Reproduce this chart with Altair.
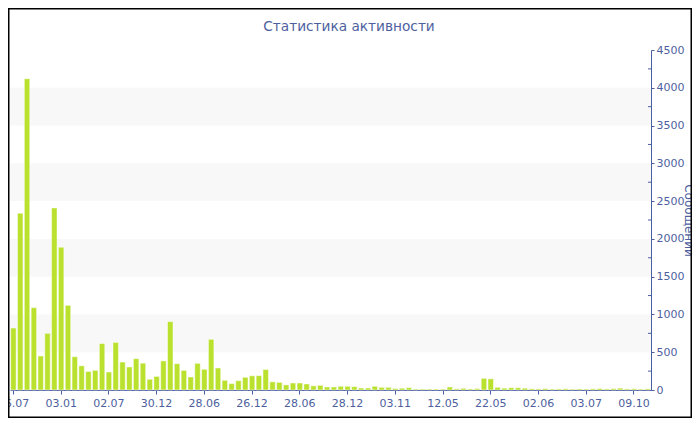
import altair as alt
import pandas as pd

# ---- data ----
values = [820, 2340, 4120, 1090, 450, 750, 2410, 1890, 1120, 440,
          320, 245, 260, 615, 238, 630, 370, 305, 415, 355,
          142, 180, 385, 905, 348, 260, 172, 353, 274, 671,
          291, 128, 84, 123, 168, 188, 190, 270, 108, 101,
          68, 93, 93, 80, 55, 62, 40, 40, 49, 49,
          44, 26, 26, 49, 35, 35, 20, 24, 31, 12,
          12, 12, 12, 12, 40, 15, 22, 14, 18, 154,
          148, 35, 24, 30, 30, 24, 16, 14, 18, 12,
          14, 16, 12, 14, 12, 16, 20, 14, 18, 24,
          14, 16, 12, 15]
tick_labels = ["06.07", "03.01", "02.07", "30.12", "28.06", "26.12", "28.06",
               "28.12", "03.11", "12.05", "22.05", "02.06", "03.07", "09.10"]
tick_step = 7
y_ticks = [0, 500, 1000, 1500, 2000, 2500, 3000, 3500, 4000, 4500]
minor_ticks = [250, 750, 1250, 1750, 2250, 2750, 3250, 3750, 4250]
band_lo = [500, 1500, 2500, 3500]
band_hi = [1000, 2000, 3000, 4000]

TITLE = "Статистика активности"
Y_TITLE = "Сообщений"

W, H = 641, 340
PAD_L, PAD_T, PAD_R, PAD_B = 2, 42, 41, 28
SVG_W = PAD_L + W + PAD_R
SVG_H = PAD_T + H + PAD_B
BLUE = "#4a5ea3"
TXT = "#4d5f9e"
BAR = "#bae12e"
FONT = "DejaVu Sans"

bars_df = pd.DataFrame({"idx": list(range(len(values))), "value": values})
bands_df = pd.DataFrame({"lo": band_lo, "hi": band_hi})
minor_df = pd.DataFrame({"t": minor_ticks})

label_expr = "[" + ",".join("'%s'" % t for t in tick_labels) + "][datum.value / %d]" % tick_step
x_vals = list(range(0, len(values), tick_step))

y_scale = alt.Scale(domain=[0, 4500], nice=False)
y_axis = alt.Axis(orient="right", values=y_ticks, format="d", title=Y_TITLE,
                  labelOverlap=False, tickSize=3, labelPadding=2,
                  titleAngle=90, titleX=33, titleY=H / 2,
                  titleAlign="center", titleBaseline="alphabetic",
                  titleFontSize=12, titleFontWeight="normal",
                  titleColor=TXT)

bands = alt.Chart(bands_df).mark_rect(color="#f8f8f8").encode(
    y=alt.Y("lo:Q", scale=y_scale, axis=y_axis),
    y2="hi:Q",
    x=alt.value(0),
    x2=alt.value(W),
)

bars = alt.Chart(bars_df).mark_bar(
    color=BAR, stroke="white", strokeWidth=0.6, strokeOpacity=0.8
).encode(
    x=alt.X("idx:O",
            scale=alt.Scale(paddingInner=0.2, paddingOuter=0.1),
            axis=alt.Axis(values=x_vals, labelExpr=label_expr, labelAngle=0,
                          title=None, tickSize=4, labelPadding=3,
                          labelFontSize=11)),
    y=alt.Y("value:Q", scale=y_scale, axis=y_axis),
)

minor = alt.Chart(minor_df).mark_rule(color=BLUE, strokeWidth=1).encode(
    y=alt.Y("t:Q", scale=y_scale, axis=y_axis),
    x=alt.value(W - 3),
    x2=alt.value(W),
)

title = alt.Chart(pd.DataFrame({"t": [TITLE]})).mark_text(
    font=FONT, fontSize=13.7, color=TXT, align="center", baseline="alphabetic"
).encode(
    text="t:N",
    x=alt.value(339),
    y=alt.value(-19),
)

frame = alt.Chart(pd.DataFrame({"k": [0]})).mark_rect(
    fill=None, stroke="black", strokeWidth=1.5
).encode(
    x=alt.value(-PAD_L + 0.75), x2=alt.value(SVG_W - PAD_L - 0.75),
    y=alt.value(-PAD_T + 0.75), y2=alt.value(SVG_H - PAD_T - 0.75),
)

chart = alt.layer(bands, bars, minor, title, frame).properties(
    width=W,
    height=H,
    padding={"left": PAD_L, "top": PAD_T, "right": PAD_R, "bottom": PAD_B},
    autosize=alt.AutoSizeParams(type="none"),
).configure_view(stroke=None).configure_axis(
    domainColor=BLUE, tickColor=BLUE, labelColor=TXT, labelFont=FONT,
    titleFont=FONT, labelFontSize=11, grid=False, domainWidth=1,
)

chart.save("out.html", embed_options={"renderer": "svg", "actions": False})
